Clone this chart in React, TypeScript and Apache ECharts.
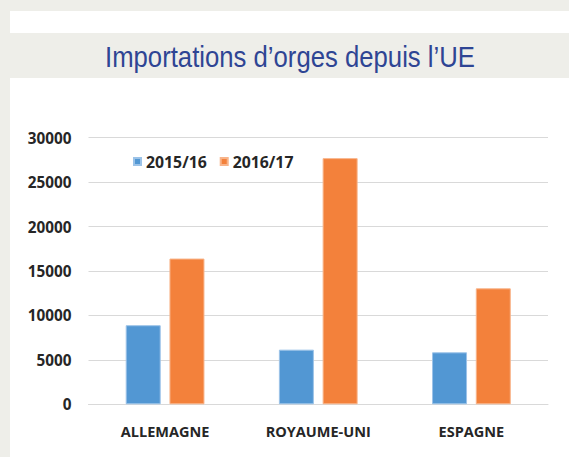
import React, { useEffect, useRef } from "react";
import * as echarts from "echarts";

const categories = ["ALLEMAGNE", "ROYAUME-UNI", "ESPAGNE"];
const seriesNames = ["2015/16", "2016/17"];
const values2015 = [8900, 6150, 5850];
const values2016 = [16400, 27700, 13050];
const titleText = "Importations d\u2019orges depuis l\u2019UE";

const FONT = '"Open Sans", "DejaVu Sans", sans-serif';

export default function App() {
  const ref = useRef<HTMLDivElement>(null);
  useEffect(() => {
    document.body.style.margin = "0";
    const chart = echarts.init(ref.current!, null, { renderer: "svg" });
    chart.setOption({
      animation: false,
      backgroundColor: "#EEEEE9",
      graphic: [
        { type: "rect", z: -10, shape: { x: 10, y: 11, width: 559, height: 446 }, style: { fill: "#FFFFFF" } },
        { type: "rect", z: -9, shape: { x: 10, y: 33, width: 559, height: 45 }, style: { fill: "#EEEEE9" } },
        {
          type: "text",
          x: 290,
          y: 56.5,
          scaleX: 0.857,
          style: {
            text: titleText,
            font: '30px "Liberation Sans", Arial, sans-serif',
            fill: "#2E4594",
            textAlign: "center",
            textVerticalAlign: "middle",
          },
        },
      ],
      legend: {
        left: 133,
        top: 153.5,
        padding: 0,
        itemWidth: 7,
        itemHeight: 7,
        itemGap: 13,
        icon: "rect",
        textStyle: { fontFamily: FONT, fontWeight: "bold", fontSize: 15.8, color: "#262626" },
        data: seriesNames,
      },
      grid: { left: 88.5, right: 21, top: 137.7, bottom: 52.7 },
      xAxis: {
        type: "category",
        data: categories,
        axisLine: { lineStyle: { color: "#D9D9D9", width: 1 } },
        axisTick: { show: false },
        axisLabel: { fontFamily: FONT, fontWeight: "bold", fontSize: 14.5, color: "#262626", margin: 20 },
      },
      yAxis: {
        type: "value",
        min: 0,
        max: 30000,
        interval: 5000,
        axisLine: { show: false },
        axisTick: { show: false },
        splitLine: { lineStyle: { color: "#D9D9D9", width: 1 } },
        axisLabel: {
          fontFamily: FONT,
          fontWeight: "bold",
          fontSize: 15.3,
          color: "#262626",
          margin: 17,
          formatter: (v: number) => String(v),
        },
      },
      series: [
        {
          name: seriesNames[0],
          type: "bar",
          data: values2015,
          barWidth: 35,
          barGap: "25%",
          itemStyle: { color: "#5297D3", borderColor: "#9CC3E8", borderWidth: 1 },
        },
        {
          name: seriesNames[1],
          type: "bar",
          data: values2016,
          barWidth: 35,
          itemStyle: { color: "#F3813B", borderColor: "#F8B48A", borderWidth: 1 },
        },
      ],
    });
    return () => chart.dispose();
  }, []);
  return <div ref={ref} style={{ position: "fixed", left: 0, top: 0, width: 569, height: 457 }} />;
}
